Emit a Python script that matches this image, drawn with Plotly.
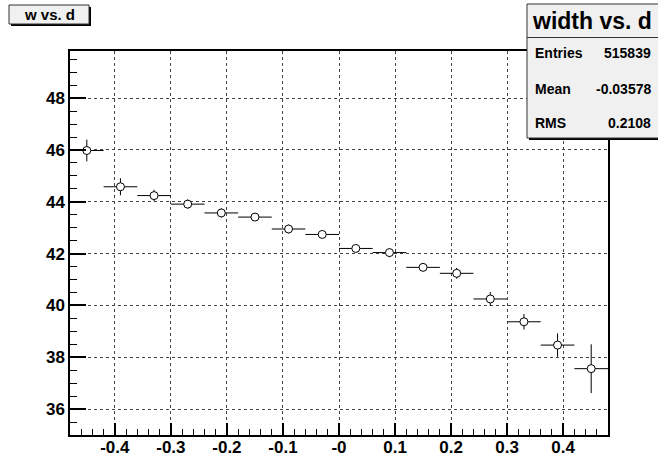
import plotly.graph_objects as go

# Profile of w versus d: bin centres, mean w per bin, error on the mean
d_centers = [-0.45, -0.39, -0.33, -0.27, -0.21, -0.15, -0.09, -0.03,
             0.03, 0.09, 0.15, 0.21, 0.27, 0.33, 0.39, 0.45]
w_mean = [45.98, 44.58, 44.24, 43.91, 43.57, 43.41, 42.95, 42.74,
          42.20, 42.04, 41.47, 41.24, 40.25, 39.37, 38.47, 37.56]
w_err = [0.42, 0.33, 0.22, 0.18, 0.18, 0.12, 0.17, 0.12,
         0.13, 0.18, 0.12, 0.21, 0.27, 0.30, 0.45, 0.94]
bin_half = [0.03] * len(d_centers)

x_tickvals = [-0.4, -0.3, -0.2, -0.1, 0.0, 0.1, 0.2, 0.3, 0.4]
x_ticktext = ["-0.4", "-0.3", "-0.2", "-0.1", "-0", "0.1", "0.2", "0.3", "0.4"]
y_tickvals = [36, 38, 40, 42, 44, 46, 48]

stats_labels = ["Entries", "Mean", "RMS"]
stats_values = ["515839", "-0.03578", "0.2108"]

W, H = 658, 459
L, R, T, B = 70, 50, 51, 24
PW, PH = W - L - R, H - T - B

FONT = "Liberation Sans, Arial, Helvetica, sans-serif"


def px(xp):
    return (xp - L) / PW


def py(yp):
    return (H - B - yp) / PH


fig = go.Figure()
fig.add_trace(go.Scatter(
    x=d_centers, y=w_mean, mode="markers",
    marker=dict(symbol="circle", size=8, color="white",
                line=dict(color="black", width=1)),
    error_x=dict(type="data", array=bin_half, color="black", thickness=1, width=0),
    error_y=dict(type="data", array=w_err, color="black", thickness=1, width=0),
    showlegend=False, hoverinfo="skip",
))

axis_common = dict(
    showline=True, linecolor="black", linewidth=1.5, mirror=True,
    showgrid=True, gridcolor="#444", griddash="dot", gridwidth=1,
    ticks="inside", tickcolor="black", zeroline=False, automargin=False,
    tickfont=dict(family=FONT, size=17, color="black", weight="bold"),
)

fig.update_xaxes(
    range=[-0.48, 0.48], tickvals=x_tickvals, ticktext=x_ticktext,
    ticklen=12, tickwidth=1.5, ticklabelstandoff=-4,
    minor=dict(ticks="inside", ticklen=6, tickwidth=1, dtick=0.02, tick0=0,
               tickcolor="black", showgrid=False),
    **axis_common,
)
fig.update_yaxes(
    range=[35.0, 49.82], tickvals=y_tickvals,
    ticklen=16, tickwidth=1.5, ticklabelstandoff=0,
    minor=dict(ticks="inside", ticklen=7, tickwidth=1, dtick=0.5, tick0=0,
               tickcolor="black", showgrid=False),
    **axis_common,
)

shapes = []
annotations = []

# Title pave (top-left) with drop shadow
shapes.append(dict(type="rect", xref="paper", yref="paper",
                   x0=px(11), x1=px(91), y0=py(26), y1=py(7),
                   fillcolor="black", line=dict(width=0), layer="above"))
shapes.append(dict(type="rect", xref="paper", yref="paper",
                   x0=px(9), x1=px(89), y0=py(24), y1=py(5),
                   fillcolor="#f0f0f0", line=dict(color="#333", width=1), layer="above"))
annotations.append(dict(xref="paper", yref="paper", x=px(49), y=py(14.5),
                        text="w vs. d", showarrow=False, xanchor="center", yanchor="middle",
                        font=dict(family=FONT, size=15, color="black", weight="bold")))

# Statistics box (top-right) with drop shadow
shapes.append(dict(type="rect", xref="paper", yref="paper",
                   x0=px(529), x1=px(662), y0=py(140), y1=py(6),
                   fillcolor="black", line=dict(width=0), layer="above"))
shapes.append(dict(type="rect", xref="paper", yref="paper",
                   x0=px(527), x1=px(660), y0=py(138), y1=py(4),
                   fillcolor="#f0f0f0", line=dict(color="#333", width=1), layer="above"))
shapes.append(dict(type="line", xref="paper", yref="paper",
                   x0=px(527), x1=px(660), y0=py(37.5), y1=py(37.5),
                   line=dict(color="#333", width=1), layer="above"))
annotations.append(dict(xref="paper", yref="paper", x=px(592), y=py(21),
                        text="width vs. d", showarrow=False, xanchor="center", yanchor="middle",
                        font=dict(family=FONT, size=23, color="black", weight="bold")))
row_y = [53, 89, 123]
for lab, val, yy in zip(stats_labels, stats_values, row_y):
    annotations.append(dict(xref="paper", yref="paper", x=px(533), y=py(yy),
                            text=lab, showarrow=False, xanchor="left", yanchor="middle",
                            font=dict(family=FONT, size=14, color="black", weight="bold")))
    annotations.append(dict(xref="paper", yref="paper", x=px(653), y=py(yy),
                            text=val, showarrow=False, xanchor="right", yanchor="middle",
                            font=dict(family=FONT, size=14, color="black", weight="bold")))

fig.update_layout(
    width=W, height=H,
    margin=dict(l=L, r=R, t=T, b=B, pad=0),
    paper_bgcolor="white", plot_bgcolor="white",
    shapes=shapes, annotations=annotations,
    showlegend=False,
)

fig.write_html("out.html", include_plotlyjs=True, full_html=True,
               config={"displayModeBar": False})
